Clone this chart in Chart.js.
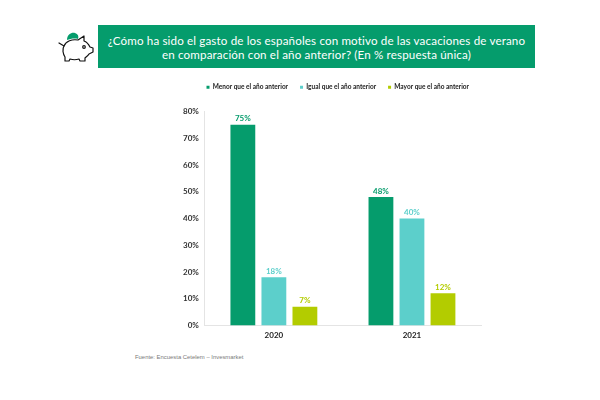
<!DOCTYPE html>
<html lang="es">
<head>
<meta charset="utf-8">
<title>Gasto en vacaciones de verano</title>
<script src="https://cdn.jsdelivr.net/npm/chart.js@4"></script>
<style>
  html, body { margin: 0; padding: 0; background: #fff; }
  #page { position: relative; width: 600px; height: 400px; overflow: hidden; font-family: Lato, sans-serif; }
  #banner {
    position: absolute; left: 98px; top: 25px; width: 437px; height: 43px;
    background: #059c6c; color: #fff; text-align: center; white-space: nowrap;
    font-size: 11.6px; line-height: 14px; letter-spacing: 0.15px; padding-top: 9px; box-sizing: border-box;
  }
  #piggy { position: absolute; left: 58px; top: 31px; }
  #chartBox { position: absolute; left: 111px; top: 72px; width: 472px; height: 278px; }
  #source { position: absolute; left: 135px; top: 354px; font: 5.9px "Liberation Sans", sans-serif; color: #7a7a7a; }
</style>
</head>
<body>
<div id="page">
  <svg id="piggy" width="36" height="32" viewBox="0 0 36 32" fill="none" stroke="#111" stroke-width="1.2" stroke-linejoin="round" stroke-linecap="round">
    <path d="M6 15 C8 10 14 8 20 9 L26 5 L26 10 C29 11 31 14 32 16 L35 17 L35 21 L31 23 C30 25 28 26 27 27 L27 30 L22 30 L21 28 C18 29 15 29 12 28 L11 30 L7 30 L7 26 C5 23 4 18 6 15 Z"/>
    <path d="M6 15 L1 12"/>
    <circle cx="26" cy="16" r="1.3"/>
    <path d="M9 9 C9 3 14 1 17 2 C20 3 21 5 20 8 C16 7 12 8 9 9 Z" fill="#059c6c" stroke="none"/>
  </svg>
  <div id="banner">¿Cómo ha sido el gasto de los españoles con motivo de las vacaciones de verano<br>en comparación con el año anterior? (En % respuesta única)</div>
  <div id="chartBox"><canvas id="spendChart"></canvas></div>
  <div id="source">Fuente: Encuesta Cetelem – Invesmarket</div>
</div>
<script>
const years = ["2020", "2021"];
const lessValues = [75, 48];
const sameValues = [18, 40];
const moreValues = [7, 12];
const yTicks = [0, 10, 20, 30, 40, 50, 60, 70, 80];

const barLabels = {
  id: "barLabels",
  afterDatasetsDraw(chart) {
    const { ctx } = chart;
    ctx.save();
    ctx.font = "bold 8px Lato, sans-serif";
    ctx.textAlign = "center";
    ctx.textBaseline = "bottom";
    chart.data.datasets.forEach((dataset, i) => {
      ctx.fillStyle = dataset.backgroundColor;
      chart.getDatasetMeta(i).data.forEach((bar, j) => {
        ctx.fillText(dataset.data[j] + "%", bar.x, bar.y - 2);
      });
    });
    ctx.restore();
  }
};

// extra space between the legend and the plot
const legendGap = {
  id: "legendGap",
  beforeInit(chart) {
    const fit = chart.legend.fit;
    chart.legend.fit = function () {
      fit.call(this);
      this.height += 11;
    };
  }
};

new Chart(document.getElementById("spendChart"), {
  type: "bar",
  plugins: [barLabels, legendGap],
  data: {
    labels: years,
    datasets: [
      { label: "Menor que el año anterior", data: lessValues, backgroundColor: "#059c6c" },
      { label: "Igual que el año anterior", data: sameValues, backgroundColor: "#5ccfcb" },
      { label: "Mayor que el año anterior", data: moreValues, backgroundColor: "#b3cc00" }
    ]
  },
  options: {
    responsive: true,
    maintainAspectRatio: false,
    animation: false,
    categoryPercentage: 0.674,
    barPercentage: 0.8,
    layout: { padding: { left: 66, right: 102, bottom: 5 } },
    plugins: {
      tooltip: { enabled: false },
      legend: {
        position: "top",
        align: "end",
        labels: {
          usePointStyle: true,
          pointStyle: "rect",
          boxWidth: 3,
          boxHeight: 3,
          padding: 12,
          color: "#222",
          font: { family: "Lato, sans-serif", size: 6.5, weight: "bold" }
        }
      }
    },
    scales: {
      x: {
        grid: { display: false, drawTicks: false },
        border: { color: "#e4e4e4" },
        ticks: { color: "#222", font: { family: "Lato, sans-serif", size: 8, weight: "bold" }, padding: 5 }
      },
      y: {
        min: 0,
        max: 80,
        afterBuildTicks(axis) { axis.ticks = yTicks.map(value => ({ value })); },
        grid: { display: false, drawTicks: false },
        border: { color: "#e4e4e4" },
        ticks: {
          color: "#333",
          padding: 6,
          font: { family: "Lato, sans-serif", size: 8, weight: "bold" },
          callback: value => value + "%"
        }
      }
    }
  }
});
</script>
</body>
</html>
